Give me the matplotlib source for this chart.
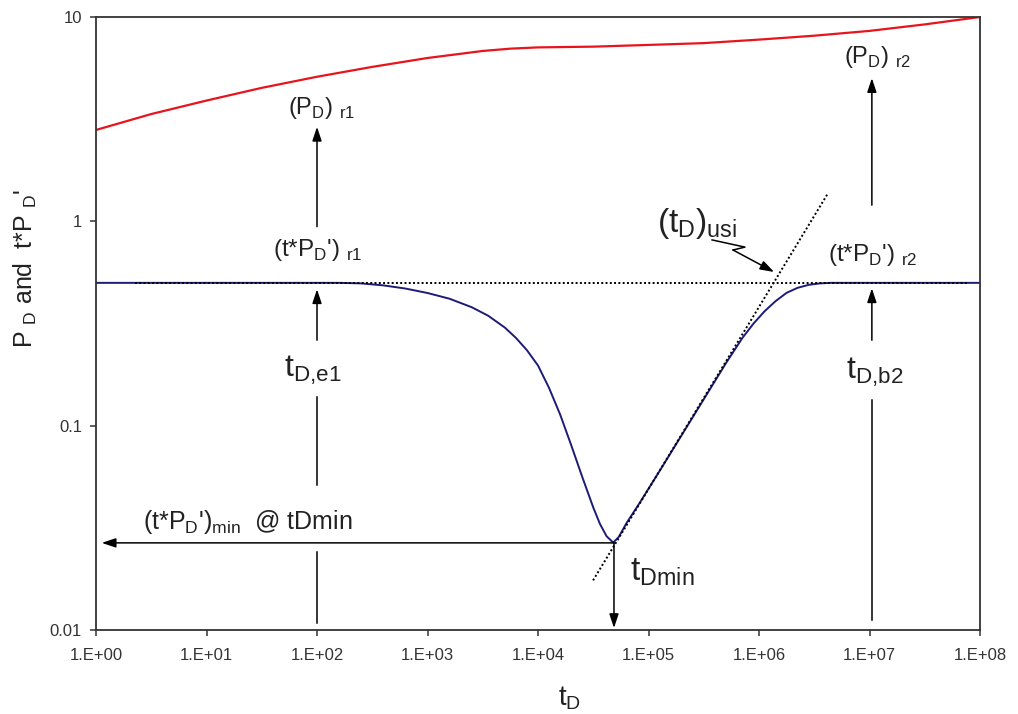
import numpy as np
import matplotlib.pyplot as plt
from matplotlib.ticker import NullLocator

plt.rcParams['font.family'] = ['Liberation Sans', 'DejaVu Sans']
plt.rcParams['mathtext.fontset'] = 'custom'
plt.rcParams['mathtext.rm'] = 'Liberation Sans'

# dimensionless pressure P_D (red), time given as decade exponents
pd_exp = np.array([0, 0.5, 1, 1.5, 2, 2.5, 3, 3.5, 3.75, 4, 4.5, 5, 5.5, 6, 6.5, 7, 7.5, 8])
pd = [2.80, 3.35, 3.9, 4.5, 5.1, 5.7, 6.3, 6.82, 7.0, 7.1, 7.16, 7.3, 7.45, 7.75, 8.1, 8.55, 9.2, 10.0]

# pressure derivative t*P_D' (blue)
der_exp = np.array([0, 1, 2, 2.2, 2.4, 2.6, 2.8, 3.0, 3.2, 3.4, 3.55, 3.7, 3.8, 3.9, 4.0,
                    4.1, 4.2, 4.3, 4.4, 4.5, 4.56, 4.62, 4.68, 4.73, 4.8, 4.92, 5.1, 5.4,
                    5.7, 5.85, 5.95, 6.05, 6.15, 6.25, 6.35, 6.45, 6.55, 6.65, 7, 8])
der = [0.5, 0.5, 0.5, 0.5, 0.497, 0.486, 0.469, 0.446, 0.418, 0.380, 0.345, 0.302, 0.269,
       0.234, 0.197, 0.153, 0.1135, 0.0804, 0.0562, 0.0398, 0.0331, 0.0288, 0.0268, 0.0285,
       0.0333, 0.0419, 0.060, 0.110, 0.202, 0.269, 0.316, 0.363, 0.407, 0.447, 0.473,
       0.489, 0.497, 0.5, 0.5, 0.5]

# guide lines
radial_x = [2.25, 7.8e7]
radial_y = [0.5, 0.5]
slope_x = [3.15e4, 4.2e6]
slope_y = [0.0175, 1.37]

t_min = 4.87e4
der_min = 0.0267

xticks = 10.0 ** np.arange(9)
xticklabels = ['1.E+0%d' % i for i in range(9)]
yticks = [0.01, 0.1, 1, 10]
yticklabels = ['0.01', '0.1', '1', '10']

fig = plt.figure(figsize=(10.18, 7.14), dpi=100)
ax = fig.add_axes([0.0943, 0.1176, 0.8684, 0.8586])

ax.plot(10.0 ** pd_exp, pd, color='#e8141c', lw=1.6)
ax.plot(10.0 ** der_exp, der, color='#1c1c78', lw=1.4)
ax.plot(radial_x, radial_y, color='black', lw=1.4, ls=(0, (1, 1.2)), zorder=3)
ax.plot(slope_x, slope_y, color='black', lw=1.4, ls=(0, (1, 1.2)), zorder=3)

ax.set_xscale('log')
ax.set_yscale('log')
ax.set_xlim(1, 1e8)
ax.set_ylim(0.01, 10)
ax.set_xticks(xticks)
ax.set_xticklabels(xticklabels)
ax.set_yticks(yticks)
ax.set_yticklabels(yticklabels)
ax.xaxis.set_minor_locator(NullLocator())
ax.yaxis.set_minor_locator(NullLocator())
ax.tick_params(direction='out', length=4, width=1.1, color='#333333',
               labelsize=12, labelcolor='#333333')
ax.tick_params(axis='x', pad=9)
ax.tick_params(axis='y', pad=6)
for s in ax.spines.values():
    s.set_color('#333333')
    s.set_linewidth(1.3)

arr = dict(arrowstyle='-|>,head_length=0.6,head_width=0.2', color='black',
           lw=1.1, mutation_scale=14, shrinkA=0, shrinkB=0)


def arrow(tip, start):
    ax.annotate('', xy=tip, xytext=start, arrowprops=arr)


# arrows at t = 1e2
arrow((100, 2.9), (100, 0.942))
arrow((100, 0.465), (100, 0.262))
ax.plot([100, 100], [0.138, 0.0513], color='black', lw=1.1)
ax.plot([100, 100], [0.0241, 0.0108], color='black', lw=1.1)

# minimum
arrow((1.126, der_min), (t_min, der_min))
arrow((t_min, 0.01023), (t_min, der_min))

# arrows at t = 1e7
arrow((1.05e7, 5.02), (1.05e7, 1.2))
arrow((1.05e7, 0.47), (1.05e7, 0.262))
ax.plot([1.05e7, 1.05e7], [0.134, 0.0112], color='black', lw=1.1)

# zigzag pointer to (tD)usi
ax.plot([3.76e5, 7.46e5, 5.82e5], [0.811, 0.748, 0.724], color='black', lw=1.1)
arrow((1.37e6, 0.565), (5.82e5, 0.724))

tc = '#222222'
ax.text(110, 3.59, r'(P$_\mathregular{D}$) $_\mathregular{r1}$', fontsize=17,
        ha='center', va='center', color=tc)
ax.text(102, 0.724, r"(t*P$_\mathregular{D}$') $_\mathregular{r1}$", fontsize=17.5,
        ha='center', va='center', color=tc)
ax.text(92, 0.187, r't$_\mathregular{D{,}e1}$', fontsize=23,
        ha='center', va='center', color=tc)
ax.text(2.66, 0.0338, r"(t*P$_\mathregular{D}$')$_\mathregular{min}$  @ tDmin", fontsize=18,
        ha='left', va='center', color=tc)
ax.text(6.8e4, 0.0192, r't$_\mathregular{Dmin}$', fontsize=24,
        ha='left', va='center', color=tc)
ax.text(1.19e7, 6.37, r'(P$_\mathregular{D}$) $_\mathregular{r2}$', fontsize=17,
        ha='center', va='center', color=tc)
ax.text(1.07e7, 0.684, r"(t*P$_\mathregular{D}$') $_\mathregular{r2}$", fontsize=17.5,
        ha='center', va='center', color=tc)
ax.text(1.12e7, 0.183, r't$_\mathregular{D{,}b2}$', fontsize=23,
        ha='center', va='center', color=tc)
ax.text(1.19e5, 0.98, r'(t$_\mathregular{D}$)$_\mathregular{usi}$', fontsize=24,
        ha='left', va='center', color=tc)

fig.text(570 / 1018, 1 - 698 / 714, r't$_\mathregular{D}$', fontsize=20,
         ha='center', va='center', color=tc)
fig.text(25 / 1018, 1 - 268 / 714, r"P $_\mathregular{D}$ and  t*P $_\mathregular{D}$'",
         fontsize=18, rotation=90, ha='center', va='center', color=tc)

fig.savefig('out.png', dpi=100)
